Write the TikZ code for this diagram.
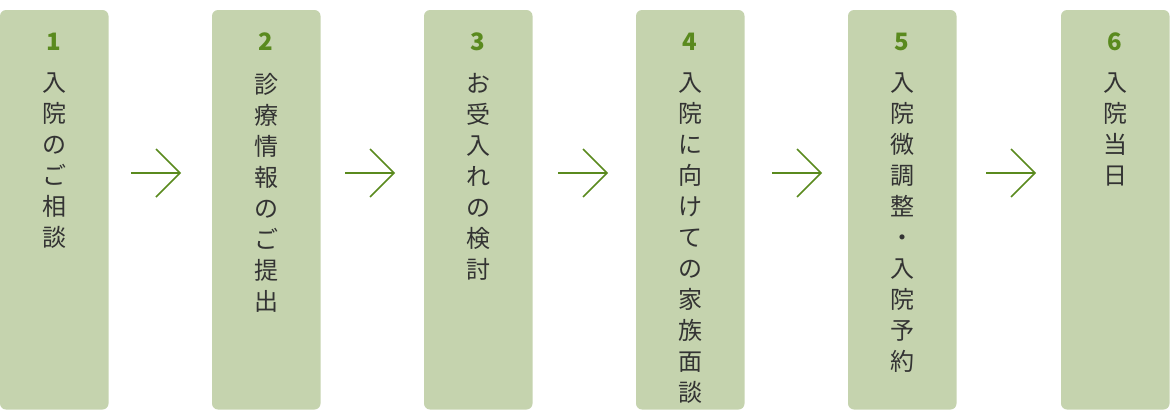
\documentclass[tikz,border=0pt]{standalone}
\usepackage{fontspec}
\setmainfont{Noto Sans CJK JP}
\definecolor{boxfill}{HTML}{C5D3AE}
\definecolor{grn}{HTML}{5A8A1E}
\definecolor{txt}{HTML}{333333}
\tikzset{
  stepbox/.style={fill=boxfill,rounded corners=6pt,draw=none},
  num/.style={text=grn,font=\fontsize{24}{24}\selectfont\bfseries,inner sep=0pt,anchor=center},
  vtext/.style={text=txt,font=\fontsize{24}{31}\selectfont,align=center,inner sep=0pt,anchor=north},
  arr/.style={draw=grn,line width=1.6pt}
}
\begin{document}
\begin{tikzpicture}[x=1pt,y=-1pt]
\useasboundingbox (0,0) rectangle (1170,410);
\foreach \i/\x/\n/\t in {
 1/0/1/{入\\院\\の\\ご\\相\\談},
 2/212/2/{診\\療\\情\\報\\の\\ご\\提\\出},
 3/424/3/{お\\受\\入\\れ\\の\\検\\討},
 4/636/4/{入\\院\\に\\向\\け\\て\\の\\家\\族\\面\\談},
 5/848/5/{入\\院\\微\\調\\整\\・\\入\\院\\予\\約},
 6/1061/6/{入\\院\\当\\日}}{
  \path[stepbox] (\x,10) rectangle ++(108.5,399.5);
  \node[num] (n\i) at (\x+54,42) {\n};
  \node[vtext] (t\i) at (\x+54,73) {\t};
}
\foreach \x in {131,345,558,772,986}{
  \coordinate (a) at (\x,173);
  \coordinate (b) at (\x+49,173);
  \coordinate (c) at (\x+25,149);
  \coordinate (d) at (\x+25,197);
  \draw[arr] (a) -- (b);
  \draw[arr,line join=miter] (c) -- (b) -- (d);
}
\end{tikzpicture}
\end{document}
